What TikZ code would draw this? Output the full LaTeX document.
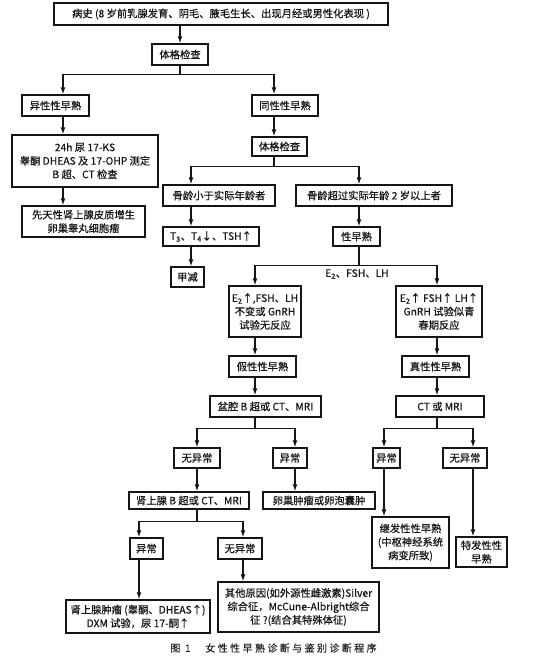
\documentclass[tikz,border=0pt]{standalone}
\usepackage{fontspec}
\setmainfont{Noto Sans CJK SC}[FakeBold=0.4]
\newfontfamily\capfont{Noto Sans CJK SC}[LetterSpace=24,FakeBold=0.2]
\usetikzlibrary{arrows.meta}
\definecolor{ChartInk}{HTML}{151515}
\definecolor{ChartMuted}{HTML}{262626}
\definecolor{ChartPaper}{HTML}{FFFFFF}
\tikzset{
  every node/.style={font=\fontsize{10.3}{13.5}\selectfont, text=ChartInk},
  box/.style={draw=ChartInk, line width=1.5pt, fill=ChartPaper, align=center, inner sep=1pt},
  link/.style={draw=ChartInk, line width=1.3pt},
  flow/.style={-{Latex[length=7pt,width=5pt]}, draw=ChartInk, line width=1.3pt},
}

\begin{document}
\begin{tikzpicture}[x=1pt,y=-1pt]
  \fill[ChartPaper] (0,0) rectangle (554,657);
  \useasboundingbox (0,0) rectangle (554,657);
  % x of the vertical arrow runs (scan px, y grows downwards)
  \foreach \n/\x in {cHet/63, cIso/274, cLow/191, cHigh/359, cPseudo/255, cTrue/437,
                     cAdr/197, cOvary/295, cSec/384, cIdio/473, cTumor/139, cOther/243}
    \coordinate (\n) at (\x,0);

  \node[box, minimum width=334pt, minimum height=22pt] (history) at (221,14)
    {病史 (8 岁前乳腺发育、阴毛、腋毛生长、出现月经或男性化表现 )};
  \node[box, minimum width=56pt, minimum height=21pt] (exam) at (180,54.5) {体格检查};
  \node[box, minimum width=67pt, minimum height=21pt] (hetero) at (55.5,105.5) {异性性早熟};
  \node[box, minimum width=66pt, minimum height=21pt] (iso) at (285,105.5) {同性性早熟};
  \node[box, minimum width=146pt, minimum height=52pt] (tests) at (85,161)
    {24h 尿 17-KS\\睾酮 DHEAS 及 17-OHP 测定\\B 超、CT 检查};
  \node[box, minimum width=55pt, minimum height=19pt] (exam2) at (279.5,146.5) {体格检查};
  \node[box, minimum width=123pt, minimum height=31pt] (cah) at (83.5,221.5)
    {先天性肾上腺皮质增生\\卵巢睾丸细胞瘤};
  \node[box, minimum width=112pt, minimum height=21pt] (boneLow) at (219,195.5) {骨龄小于实际年龄者};
  \node[box, minimum width=156pt, minimum height=21pt] (boneHigh) at (374,195.5) {骨龄超过实际年龄 2 岁以上者};
  \node[box, minimum width=96pt, minimum height=19pt] (thyroid) at (211,236.5)
    {T\textsubscript{3}、T\textsubscript{4}↓、TSH↑};
  \node[box, minimum width=47pt, minimum height=19pt] (precocious) at (356.5,236.5) {性早熟};
  \node[box, minimum width=33pt, minimum height=20pt] (hypo) at (187.5,277) {甲减};
  \node[box, minimum width=72pt, minimum height=51pt] (hormL) at (265,311.5)
    {E\textsubscript{2}↑,FSH、LH\\不变或 GnRH\\试验无反应};
  \node[box, minimum width=86pt, minimum height=51pt] (hormR) at (439,311.5)
    {E\textsubscript{2}↑ FSH↑ LH↑\\GnRH 试验似青\\春期反应};
  \node[box, minimum width=67pt, minimum height=21pt] (pseudo) at (262.5,366.5) {假性性早熟};
  \node[box, minimum width=67pt, minimum height=21pt] (central) at (435.5,366.5) {真性性早熟};
  \node[box, minimum width=111pt, minimum height=21pt] (pelvis) at (265.5,406.5) {盆腔 B 超或 CT、MRI};
  \node[box, minimum width=88pt, minimum height=21pt] (ctmri) at (440,406.5) {CT 或 MRI};
  \node[box, minimum width=46pt, minimum height=20pt] (pelvisNo) at (197,458) {无异常};
  \node[box, minimum width=34pt, minimum height=20pt] (pelvisYes) at (290,458) {异常};
  \node[box, minimum width=27pt, minimum height=20pt] (ctYes) at (386.5,458) {异常};
  \node[box, minimum width=44pt, minimum height=20pt] (ctNo) at (465,458) {无异常};
  \node[box, minimum width=120pt, minimum height=17pt] (adrenal) at (189,500.5) {肾上腺 B 超或 CT、MRI};
  \node[box, minimum width=112pt, minimum height=17pt] (ovary) at (319,500.5) {卵巢肿瘤或卵泡囊肿};
  \node[box, minimum width=77pt, minimum height=51pt] (secondary) at (410.5,542.5)
    {继发性性早熟\\(中枢神经系统\\病变所致)};
  \node[box, minimum width=51pt, minimum height=30pt] (idiopathic) at (481.5,552) {特发性性\\早熟};
  \node[box, minimum width=33pt, minimum height=21pt] (adrYes) at (146.5,548.5) {异常};
  \node[box, minimum width=44pt, minimum height=21pt] (adrNo) at (240,548.5) {无异常};
  \node[box, minimum width=144pt, minimum height=33pt] (tumor) at (138,616.5)
    {肾上腺肿瘤 (睾酮、DHEAS↑)\\DXM 试验，尿 17-酮↑};
  \node[box, minimum width=161pt, minimum height=50pt] (other) at (298.5,607)
    {其他原因(如外源性雌激素)Silver\\综合征，McCune-Albright综合\\征 ?(结合其特殊体征)};
  \node[text=ChartMuted] (caption) at (273.5,648)
    {\capfont\fontsize{10}{12}\selectfont 图 1　女性性早熟诊断与鉴别诊断程序};

  % connectors
  \draw[flow] (history.south -| exam) -- (exam);
  \draw[link] (exam.south) -- ++(0,9) coordinate (examSplit);
  \draw[flow] (examSplit) -| (hetero.north -| cHet);
  \draw[flow] (examSplit) -| (iso.north -| cIso);
  \draw[flow] (hetero.south -| cHet) -- (tests.north -| cHet);
  \draw[flow] (tests.south -| cHet) -- (cah.north -| cHet);
  \draw[flow] (iso.south -| cIso) -- (exam2.north -| cIso);
  \draw[link] (exam2.south -| cIso) -- ++(0,10) coordinate (exam2Split);
  \draw[flow] (exam2Split) -| (boneLow.north -| cLow);
  \draw[flow] (exam2Split) -| (boneHigh.north -| cHigh);
  \draw[flow] (boneLow.south -| cLow) -- (thyroid.north -| cLow);
  \draw[flow] (thyroid.south -| cLow) -- (hypo.north -| cLow);
  \draw[flow] (boneHigh.south -| cHigh) -- (precocious.north -| cHigh);
  \draw[link] (precocious.south -| cHigh) -- ++(0,19) coordinate (precSplit);
  \draw[flow] (precSplit) -| (hormL.north -| cPseudo);
  \draw[flow] (precSplit) -| (hormR.north -| cTrue);
  \node (hormLabel) at (357,274) {E\textsubscript{2}、FSH、LH};
  \draw[flow] (hormL.south -| cPseudo) -- (pseudo.north -| cPseudo);
  \draw[flow] (pseudo.south -| cPseudo) -- (pelvis.north -| cPseudo);
  \draw[flow] (hormR.south -| cTrue) -- (central.north -| cTrue);
  \draw[flow] (central.south -| cTrue) -- (ctmri.north -| cTrue);
  \draw[link] (pelvis.south -| cPseudo) -- ++(0,11) coordinate (pelvisSplit);
  \draw[flow] (pelvisSplit) -| (pelvisNo.north -| cAdr);
  \draw[flow] (pelvisSplit) -| (pelvisYes.north -| cOvary);
  \draw[flow] (pelvisNo.south -| cAdr) -- (adrenal.north -| cAdr);
  \draw[flow] (pelvisYes.south -| cOvary) -- (ovary.north -| cOvary);
  \draw[link] (ctmri.south -| cTrue) -- ++(0,11) coordinate (ctSplit);
  \draw[flow] (ctSplit) -| (ctYes.north -| cSec);
  \draw[flow] (ctSplit) -| (ctNo.north -| cIdio);
  \draw[flow] (ctYes.south -| cSec) -- (secondary.north -| cSec);
  \draw[flow] (ctNo.south -| cIdio) -- (idiopathic.north -| cIdio);
  \draw[link] (adrenal.south -| cAdr) -- ++(0,12) coordinate (adrSplit);
  \draw[flow] (adrSplit) -| (adrYes.north -| cTumor);
  \draw[flow] (adrSplit) -| (adrNo.north -| cOther);
  \draw[flow] (adrYes.south -| cTumor) -- (tumor.north -| cTumor);
  \draw[flow] (adrNo.south -| cOther) -- (other.north -| cOther);
\end{tikzpicture}
\end{document}
